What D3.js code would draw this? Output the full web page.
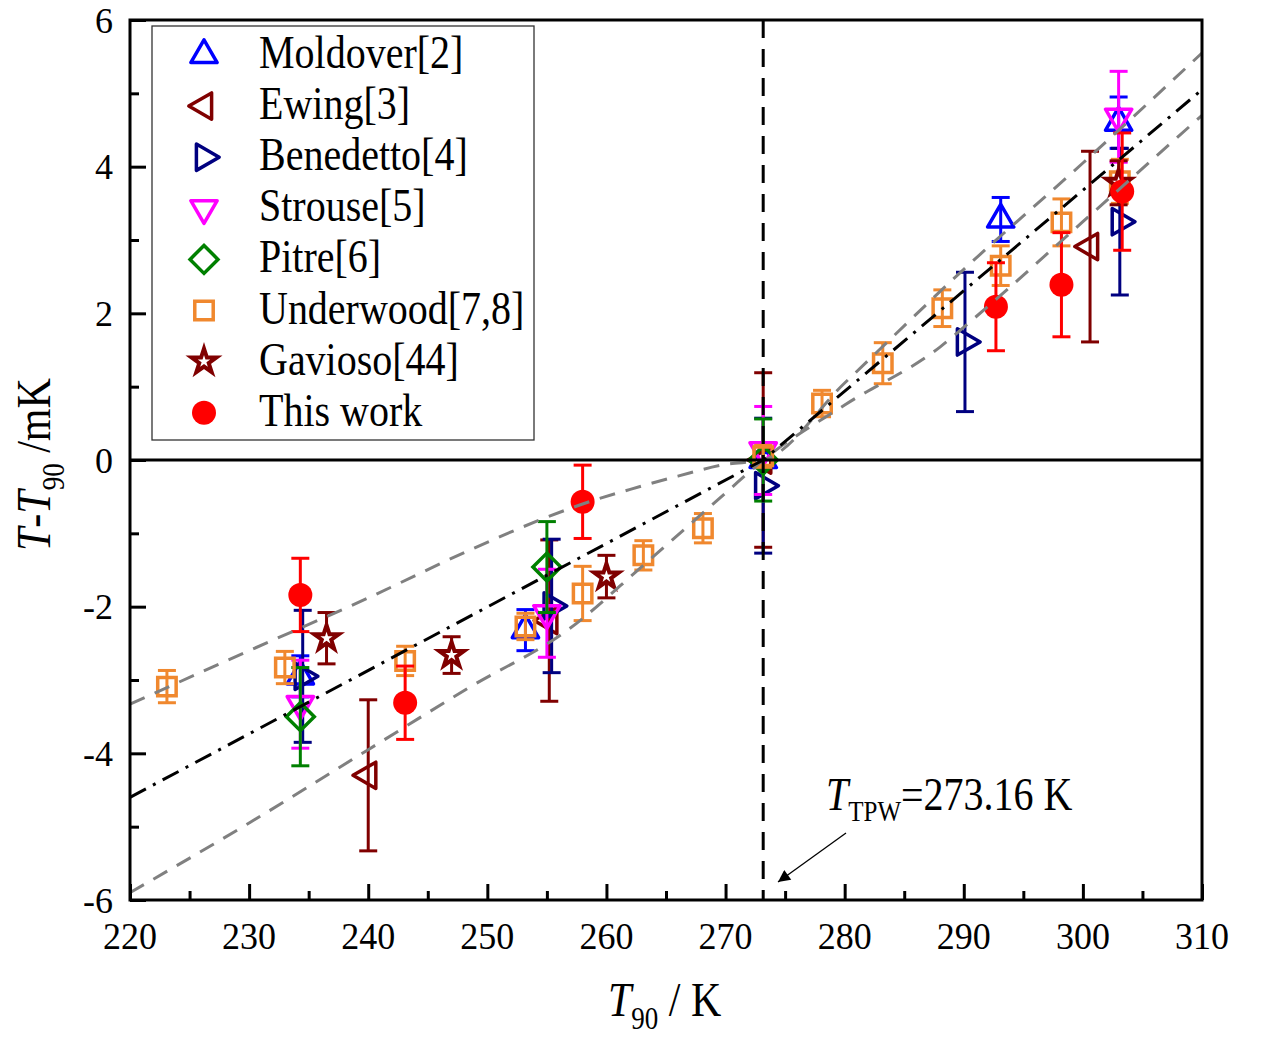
<!DOCTYPE html>
<html><head><meta charset="utf-8">
<script src="https://cdn.jsdelivr.net/npm/d3@7"></script>
<style>body{margin:0;background:#fff}svg text{font-family:"Liberation Serif","Times New Roman",serif;fill:#000}</style>
</head><body>
<svg id="c" width="1261" height="1037"></svg>
<script>
// ---------- data ----------
const seriesNames = ["Moldover[2]","Ewing[3]","Benedetto[4]","Strouse[5]","Pitre[6]","Underwood[7,8]","Gavioso[44]","This work"];
const moldoverT = [234.3, 253.2, 273.16, 293.1, 303.0];
const moldoverV = [-2.95, -2.32, 0.0, 3.28, 4.6];
const moldoverE = [0.28, 0.28, 0.1, 0.3, 0.35];
const ewingT = [240.0, 255.2, 273.16, 300.6];
const ewingV = [-4.3, -2.19, 0.0, 2.91];
const ewingE = [1.03, 1.1, 1.19, 1.3];
const benedettoT = [234.5, 255.4, 273.16, 290.1, 303.1];
const benedettoV = [-2.95, -1.99, -0.35, 1.61, 3.25];
const benedettoE = [0.9, 0.91, 0.92, 0.95, 1.0];
const strouseT = [234.3, 255.0, 273.16, 303.0];
const strouseV = [-3.33, -2.09, 0.13, 4.68];
const strouseE = [0.6, 0.6, 0.6, 0.62];
const pitreT = [234.3, 255.0, 273.16];
const pitreV = [-3.5, -1.46, 0.0];
const pitreE = [0.67, 0.62, 0.56];
const underwoodT = [223.1, 233.0, 243.1, 253.2, 258.0, 263.1, 268.1, 273.16, 278.1, 283.2, 288.2, 293.1, 298.2, 303.1];
const underwoodV = [-3.09, -2.83, -2.74, -2.27, -1.82, -1.3, -0.93, 0.05, 0.77, 1.32, 2.07, 2.65, 3.24, 3.8];
const underwoodE = [0.22, 0.22, 0.2, 0.18, 0.37, 0.2, 0.2, 0.15, 0.18, 0.28, 0.25, 0.27, 0.32, 0.3];
const gaviosoT = [236.5, 247.0, 260.0, 303.0];
const gaviosoV = [-2.43, -2.66, -1.59, 3.78];
const gaviosoE = [0.35, 0.25, 0.29, 0.3];
const thisWorkT = [234.3, 243.1, 258.0, 292.7, 298.2, 303.3];
const thisWorkV = [-1.84, -3.31, -0.57, 2.09, 2.39, 3.66];
const thisWorkE = [0.5, 0.5, 0.5, 0.6, 0.71, 0.8];

// fit line and bands
const fitT = [220, 273.16, 310];
const fitV = [-4.6, 0, 5.05];
const upperT = [220, 230, 240, 248.5, 255, 258, 262, 266, 270, 273.16, 280, 290, 300, 310];
const upperV = [-3.33, -2.6, -1.88, -1.23, -0.78, -0.6, -0.4, -0.22, -0.06, 0, 1.05, 2.6, 4.05, 5.55];
const lowerT = [220, 230, 240, 248.5, 256.9, 263, 270, 273.16, 280, 288, 291, 300, 310];
const lowerV = [-5.9, -4.95, -3.95, -3.1, -2.3, -1.45, -0.45, 0, 0.75, 1.54, 1.95, 3.25, 4.7];

const xTicks = [220,230,240,250,260,270,280,290,300,310];
const yTicks = [-6,-4,-2,0,2,4,6];
const tpw = 273.16;

// ---------- setup ----------
const svg = d3.select("#c");
const L=130,R=1202,T=20,B=900;
const x = d3.scaleLinear([220,310],[L,R]);
const y = d3.scaleLinear([-6,6],[B,T]);
const SY = 1.14; // vertical text stretch of original

const colors = ["#0000ff","#800000","#000080","#ff00ff","#008000","#f0882e","#800000","#ff0000"];
const kinds = ["up","left","right","down","diamond","square","star","circle"];
const data = [
  [moldoverT,moldoverV,moldoverE],[ewingT,ewingV,ewingE],[benedettoT,benedettoV,benedettoE],
  [strouseT,strouseV,strouseE],[pitreT,pitreV,pitreE],[underwoodT,underwoodV,underwoodE],
  [gaviosoT,gaviosoV,gaviosoE],[thisWorkT,thisWorkV,thisWorkE]
];

function marker(g, kind, color){
  if(kind==="circle"){
    g.append("circle").attr("r",12).attr("fill",color);
    return;
  }
  if(["up","left","right","down"].includes(kind)){
    const rot = {up:0,left:-90,right:90,down:180}[kind];
    g.append("path").attr("d",d3.symbol(d3.symbolTriangle,300)())
      .attr("transform",`rotate(${rot})`).attr("fill","none").attr("stroke",color).attr("stroke-width",3.5).attr("stroke-linejoin","round");
  } else if(kind==="diamond"){
    g.append("path").attr("d",d3.symbol(d3.symbolSquare,390)()).attr("transform","rotate(45)")
      .attr("fill","none").attr("stroke",color).attr("stroke-width",3.5);
  } else if(kind==="square"){
    g.append("path").attr("d",d3.symbol(d3.symbolSquare,340)())
      .attr("fill","none").attr("stroke",color).attr("stroke-width",3.5);
  } else if(kind==="star"){
    g.append("path").attr("d",d3.symbol(d3.symbolStar,190)())
      .attr("fill","#fff").attr("stroke",color).attr("stroke-width",4).attr("stroke-linejoin","miter");
  }
}

function stext(g, px, py, str, size, anchor, sy){
  const t = g.append("text").attr("transform",`translate(${px},${py}) scale(1,${sy||SY})`)
    .attr("font-size",size).attr("text-anchor",anchor||"start");
  t.text(str);
  return t;
}

// ---------- data marks ----------
const dataG = svg.append("g");
data.forEach((s,i)=>{
  const [ts,vs,es] = s;
  const g = dataG.append("g");
  ts.forEach((t,j)=>{
    const cx = x(t), v = vs[j], e = es[j];
    const y1 = y(v+e), y2 = y(v-e);
    g.append("line").attr("x1",cx).attr("x2",cx).attr("y1",y1).attr("y2",y2).attr("stroke",colors[i]).attr("stroke-width",3);
    [y1,y2].forEach(yy=>g.append("line").attr("x1",cx-9).attr("x2",cx+9).attr("y1",yy).attr("y2",yy).attr("stroke",colors[i]).attr("stroke-width",3));
    const mg = g.append("g").attr("transform",`translate(${cx},${y(v)})`);
    marker(mg,kinds[i],colors[i]);
  });
});

// ---------- lines ----------
const lineGen = (ts,vs)=>d3.line().x((d,i)=>x(ts[i])).y((d,i)=>y(vs[i])).curve(d3.curveMonotoneX)(ts);
svg.append("path").attr("d",lineGen(upperT,upperV)).attr("fill","none").attr("stroke","#808080").attr("stroke-width",3).attr("stroke-dasharray","16 11");
svg.append("path").attr("d",lineGen(lowerT,lowerV)).attr("fill","none").attr("stroke","#808080").attr("stroke-width",3).attr("stroke-dasharray","16 11");
svg.append("path").attr("d",d3.line().x((d,i)=>x(fitT[i])).y((d,i)=>y(fitV[i]))(fitT)).attr("fill","none").attr("stroke","#000").attr("stroke-width",3).attr("stroke-dasharray","18 8 3 8");
// zero line
svg.append("line").attr("x1",L).attr("x2",R).attr("y1",y(0)).attr("y2",y(0)).attr("stroke","#000").attr("stroke-width",3);
// TPW vertical dashed
svg.append("line").attr("x1",x(tpw)).attr("x2",x(tpw)).attr("y1",T).attr("y2",B).attr("stroke","#000").attr("stroke-width",3).attr("stroke-dasharray","18 11");

// ---------- axes ----------
const xMinor = d3.range(225,310,10);
const yMinor = [-5,-3,-1,1,3,5];
const ax = svg.append("g").attr("transform",`translate(0,${B})`)
  .call(d3.axisBottom(x).tickValues(xTicks).tickSize(-16).tickFormat(""));
const axm = svg.append("g").attr("transform",`translate(0,${B})`)
  .call(d3.axisBottom(x).tickValues(xMinor).tickSize(-9).tickFormat(""));
const ay = svg.append("g").attr("transform",`translate(${L},0)`)
  .call(d3.axisLeft(y).tickValues(yTicks).tickSize(-16).tickFormat(""));
const aym = svg.append("g").attr("transform",`translate(${L},0)`)
  .call(d3.axisLeft(y).tickValues(yMinor).tickSize(-9).tickFormat(""));
[ax,axm,ay,aym].forEach(a=>{a.selectAll(".domain").remove();a.selectAll("line").attr("stroke","#000").attr("stroke-width",3);});
svg.append("rect").attr("x",L).attr("y",T).attr("width",R-L).attr("height",B-T).attr("fill","none").attr("stroke","#000").attr("stroke-width",3);

const labG = svg.append("g");
xTicks.forEach(t=>stext(labG,x(t),949,String(t),36,"middle",1.08));
yTicks.forEach(v=>stext(labG,113,y(v)+12.5,String(v),36,"end",1.0));

// axis titles
const xt = svg.append("text").attr("transform",`translate(608,1016) scale(1,${SY})`).attr("font-size",42);
xt.append("tspan").attr("font-style","italic").text("T");
xt.append("tspan").attr("font-size",27).attr("dy",11).text("90");
xt.append("tspan").attr("dy",-11).text(" / K");

const yt = svg.append("text").attr("transform",`translate(50,551) rotate(-90) scale(1,${SY})`).attr("font-size",42);
yt.append("tspan").attr("font-style","italic").text("T");
yt.append("tspan").text("-");
yt.append("tspan").attr("font-style","italic").text("T");
yt.append("tspan").attr("font-size",27).attr("dy",12).text("90");
yt.append("tspan").attr("dy",-12).text(" /mK");

// annotation
const an = svg.append("text").attr("transform",`translate(826,810) scale(1,${SY})`).attr("font-size",40);
an.append("tspan").attr("font-style","italic").text("T");
an.append("tspan").attr("font-size",25).attr("dy",10).text("TPW");
an.append("tspan").attr("dy",-10).text("=273.16 K");
svg.append("defs").append("marker").attr("id","ah").attr("viewBox","0 0 10 10").attr("refX",10).attr("refY",5)
  .attr("markerWidth",22).attr("markerHeight",12).attr("markerUnits","userSpaceOnUse").attr("orient","auto")
  .append("path").attr("d","M0,0 L10,5 L0,10 Z").attr("fill","#000");
svg.append("line").attr("x1",846).attr("y1",833).attr("x2",778).attr("y2",882).attr("stroke","#000").attr("stroke-width",1.3).attr("marker-end","url(#ah)");

// ---------- legend ----------
const lg = svg.append("g");
lg.append("rect").attr("x",152).attr("y",26).attr("width",382).attr("height",414).attr("fill","#fff").attr("stroke","#333").attr("stroke-width",1.3);
seriesNames.forEach((n,i)=>{
  const cy = 55 + i*51.1;
  const mg = lg.append("g").attr("transform",`translate(204,${cy})`);
  marker(mg,kinds[i],colors[i]);
  stext(lg,259,cy+13,n,40,"start");
});
</script>
</body></html>
